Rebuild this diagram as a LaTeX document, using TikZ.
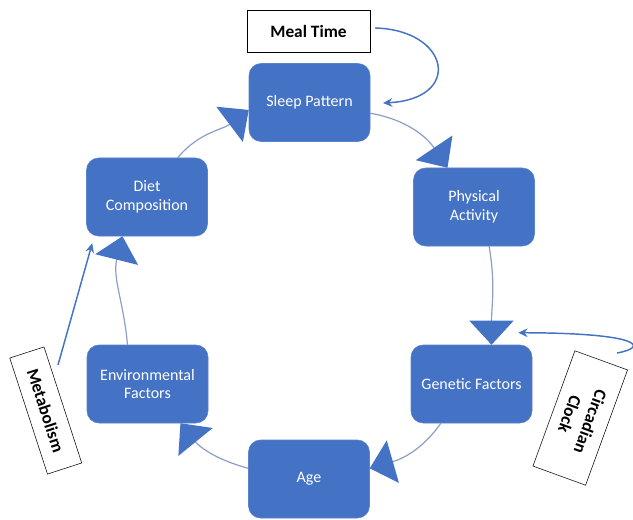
\documentclass[tikz,border=0pt]{standalone}
\usepackage{fontspec}
\setmainfont{Carlito}
\usetikzlibrary{arrows.meta}
\definecolor{cycleblue}{RGB}{68,114,196}
\definecolor{cycleline}{RGB}{140,157,200}
\definecolor{cycleborder}{RGB}{91,130,205}

\begin{document}
\begin{tikzpicture}[
    x=0.75pt, y=0.75pt,
    factor/.style={draw=cycleborder, fill=cycleblue, rounded corners=9pt, minimum width=90.75pt, minimum height=58.5pt, text=white, font=\fontsize{12}{14}\selectfont, align=center, inner sep=2pt},
    cuebox/.style={draw=black, fill=white, font=\fontsize{13}{16.5}\selectfont\bfseries, align=center, inner sep=2pt},
    cyclearrow/.style={draw=cycleline, line width=0.9pt, -{Triangle[length=18pt,width=33pt,color=cycleblue,fill=cycleblue]}},
    cue/.style={draw=cycleblue, line width=1.1pt, -{Stealth[length=7pt,width=6.5pt]}}
]
\useasboundingbox (0,0) rectangle (633,519);

% the six factors on the loop
\node[factor] (sleep) at (309.5,416.5) {Sleep Pattern};
\node[factor] (phys) at (474,312) {Physical\\Activity};
\node[factor] (gen) at (471.5,135) {Genetic Factors};
\node[factor] (age) at (309,40) {Age};
\node[factor] (env) at (147.5,135) {Environmental\\Factors};
\node[factor] (diet) at (147,322) {Diet\\Composition};

% outside cues
\node[cuebox, minimum width=92pt, minimum height=31.5pt] (meal) at (308.5,488) {Meal Time};
\node[cuebox, minimum width=91.5pt, minimum height=27pt, rotate=-72] (metab) at (45.75,108.5) {Metabolism};
\node[cuebox, minimum width=92pt, minimum height=42pt, rotate=-110] (circ) at (580.25,101) {Circadian\\Clock};

% loop
\draw[cyclearrow] (sleep.-10) to[out=-10,in=124] (phys.124);
\draw[cyclearrow] (phys.-69) to[out=-80,in=90] (gen.63);
\draw[cyclearrow] (gen.-128) to[out=-125,in=16] (age.10);
\draw[cyclearrow] (age.170) to[out=165,in=-51] (env.-50);
\draw[cyclearrow] (env.117) to[out=95,in=-104] (diet.-122);
\draw[cyclearrow] (diet.52) to[out=50,in=217] (sleep.187);

% cue arrows
\coordinate (mealtip) at (383,416);
\draw[cue] ([xshift=3.75pt,yshift=2.25pt]meal.east) .. controls +(75,-2) and +(80,4) .. (mealtip);
\coordinate (circstart) at (617,166);
\draw[cue] (circstart) .. controls (650,172) and (640,186) .. ([xshift=-10.5pt,yshift=9pt]gen.north east);
\coordinate (metabstart) at (58,154);
\draw[cue] (metabstart) -- ([xshift=4.5pt,yshift=-5.25pt]diet.south west);
\end{tikzpicture}
\end{document}
